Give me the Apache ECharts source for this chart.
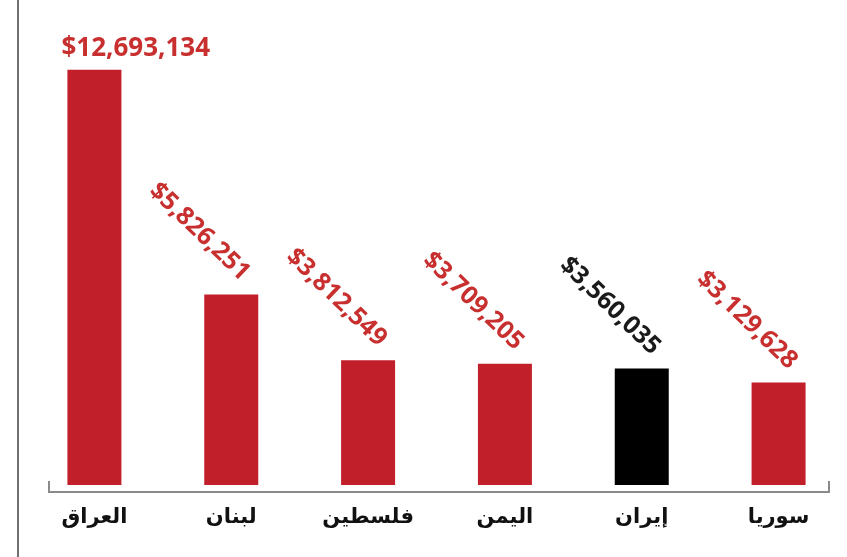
<!DOCTYPE html>
<html><head><meta charset="utf-8">
<script src="https://cdn.jsdelivr.net/npm/echarts@6/dist/echarts.min.js"></script>
<style>html,body{margin:0;padding:0;background:#fff}#c{width:847px;height:557px}</style>
</head><body><div id="c"></div>
<script>
const categories = ['العراق', 'لبنان', 'فلسطين', 'اليمن', 'إيران', 'سوريا'];
const values = [12693134, 5826251, 3812549, 3709205, 3560035, 3129628];
const highlightCategory = 'إيران';

const RED = '#c11f29', LABEL_RED = '#c8302f', BLACK = '#000000';
const chart = echarts.init(document.getElementById('c'), null, {renderer: 'canvas'});
const fmt = v => '$' + v.toLocaleString('en-US');

const data = values.map((v, i) => {
  const isHi = categories[i] === highlightCategory;
  const item = {
    value: v,
    itemStyle: {color: isHi ? BLACK : RED},
    label: {color: isHi ? '#1a1a1a' : LABEL_RED}
  };
  if (i === 0) {
    Object.assign(item.label, {rotate: 0, align: 'left', verticalAlign: 'bottom', offset: [-33, -8], fontSize: 26});
  }
  return item;
});

chart.setOption({
  animation: false,
  backgroundColor: '#fff',
  grid: {left: 26, width: 828, top: 27, bottom: 72, containLabel: false},
  xAxis: {
    type: 'category', data: categories,
    axisLine: {show: false}, axisTick: {show: false},
    axisLabel: {color: '#111', fontFamily: '"DejaVu Sans"', fontWeight: 'bold', fontSize: 21, margin: 22}
  },
  yAxis: {type: 'value', min: 0, max: 14000000, show: false, splitLine: {show: false}},
  series: [{
    type: 'bar', data: data, barWidth: 54,
    label: {
      show: true, position: 'top', distance: 0,
      formatter: p => fmt(p.value),
      rotate: -44, align: 'right', verticalAlign: 'middle', offset: [-2, -23],
      fontFamily: '"Open Sans"', fontWeight: 'bold', fontSize: 25
    }
  }],
  graphic: [
    {type: 'line', shape: {x1: 18, y1: 0, x2: 18, y2: 557}, style: {stroke: '#707070', lineWidth: 2}},
    {type: 'polyline', shape: {points: [[49, 481], [49, 492], [829, 492], [829, 481]]}, style: {stroke: '#8a8a8a', lineWidth: 2, fill: null}}
  ]
});
</script></body></html>
